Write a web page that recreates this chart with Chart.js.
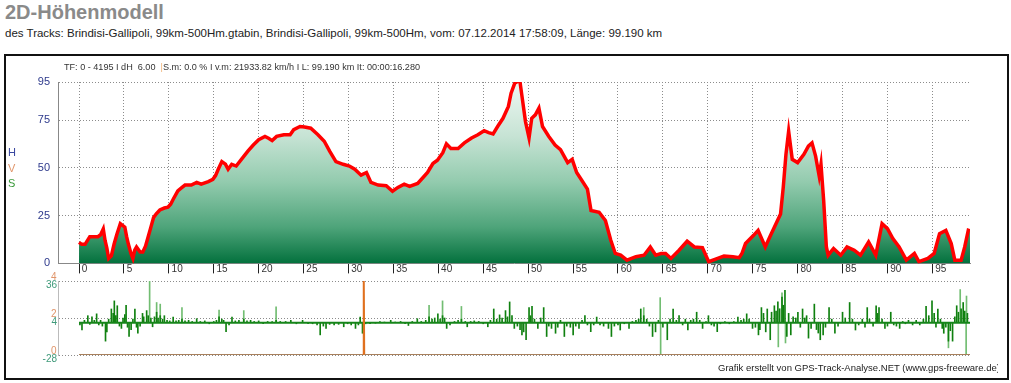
<!DOCTYPE html>
<html>
<head>
<meta charset="utf-8">
<script src="https://cdn.jsdelivr.net/npm/chart.js@4/dist/chart.umd.min.js"></script>
<style>
body { margin: 0; width: 1011px; height: 383px; background: #fff; position: relative; overflow: hidden;
       font-family: Arial, "Liberation Sans", sans-serif; }
#title { position: absolute; left: 5px; top: 1px; font-size: 20px; font-weight: bold; color: #8a8a8a; line-height: 22px; }
#sub { position: absolute; left: 5px; top: 26px; font-size: 11.5px; color: #222; line-height: 14px; white-space: nowrap; }
#frame { position: absolute; left: 4px; top: 54px; width: 1001px; height: 322px; border: 2px solid #111; }
#info { position: absolute; left: 64px; top: 61px; font-size: 9.1px; color: #333; white-space: pre; line-height: 12px; }
#info span { color: #f0b070; }
#hvs { position: absolute; left: 8px; top: 145px; font-size: 11px; line-height: 15.5px; }
#footer { position: absolute; left: 718px; top: 362px; width: 280px; overflow: hidden; font-size: 9.5px; color: #222; white-space: nowrap; line-height: 12px; }
canvas { position: absolute; left: 0; }
#elevChart { top: 56px; }
#slopeChart { top: 272px; }
</style>
</head>
<body>
<div id="title">2D-Höhenmodell</div>
<div id="sub">des Tracks: Brindisi-Gallipoli, 99km-500Hm.gtabin, Brindisi-Gallipoli, 99km-500Hm, vom: 07.12.2014 17:58:09, Länge: 99.190 km</div>
<div id="frame"></div>
<canvas id="slopeChart" width="1011" height="100"></canvas>
<canvas id="elevChart" width="1011" height="222"></canvas>
<div id="info">TF: 0 - 4195 I dH  6.00  <span>|</span>S.m: 0.0 % I v.m: 21933.82 km/h I L: 99.190 km It: 00:00:16.280</div>
<div id="hvs"><div style="color:#3a48a0">H</div><div style="color:#e0956a">V</div><div style="color:#3a9a3a">S</div></div>
<div id="footer">Grafik erstellt von GPS-Track-Analyse.NET (www.gps-freeware.de)</div>
<script>
var trackLength = 99.19;
var xMin = -2.34;
var kmTicks = [0, 5, 10, 15, 20, 25, 30, 35, 40, 45, 50, 55, 60, 65, 70, 75, 80, 85, 90, 95];
var elevTicks = [0, 25, 50, 75, 95];
var slopeTicks = [-28, 4, 36];
var speedTicks = [0, 2, 4];

// elevation profile (km / Hm)
var elevKm = [0, 0.3, 0.67, 1.2, 2.1, 2.4, 2.7, 2.9, 3.1, 3.3, 3.6, 3.9, 4.2, 4.6, 5.1, 5.3, 5.5, 5.8, 6.0, 6.2,
  6.4, 6.8, 7.1, 7.4, 7.7, 8.0, 8.3, 8.6, 9.0, 9.5, 9.9, 10.2, 10.5, 11.0, 11.4, 11.8, 12.5, 13.1, 13.6, 14.4,
  14.9, 15.2, 15.5, 15.9, 16.3, 16.6, 17.0, 17.5, 18.1, 18.8, 19.4, 20.0, 20.7, 21.1, 21.5, 22.0, 22.8, 23.5, 23.9, 24.6,
  25.1, 25.8, 26.6, 27.3, 27.9, 28.6, 29.4, 30.1, 30.7, 31.4, 32.0, 32.5, 33.3, 34.2, 34.9, 35.5, 36.2, 36.8, 37.7, 38.3,
  38.8, 39.4, 39.9, 40.5, 40.9, 41.4, 42.2, 42.9, 43.7, 44.4, 45.1, 45.6, 46.1, 46.6, 47.2, 47.8, 48.1, 48.5, 48.8, 49.1,
  49.3, 49.7, 50.1, 50.4, 50.8, 51.2, 51.6, 52.3, 53.0, 53.6, 54.4, 54.9, 55.4, 56.0, 56.6, 57.0, 57.9, 58.6, 59.2, 59.7,
  60.3, 61.0, 62.0, 62.9, 63.6, 64.2, 64.8, 65.3, 65.9, 66.8, 67.7, 68.5, 69.4, 70.1, 71.1, 71.8, 72.8, 73.5, 73.8, 74.2,
  75.1, 75.6, 76.4, 76.9, 77.5, 78.1, 78.4, 78.7, 79.0, 79.4, 80.0, 80.7, 81.2, 81.6, 82.0, 82.4, 82.6, 82.9, 83.2, 83.4,
  84.0, 84.8, 85.5, 86.3, 87.0, 87.9, 88.7, 89.4, 90.0, 90.6, 91.3, 92.1, 93.0, 93.5, 94.5, 95.2, 95.8, 96.5, 97.1, 97.5,
  98.2, 98.6, 99.0, 99.19];
var elevH = [11, 10, 10, 14, 14, 15, 18, 12, 8, 2.6, 4, 10, 15, 20.8, 19, 14, 10, 5, 2.6, 7,
  8.6, 6, 6, 9, 14, 19, 24, 26, 28, 29, 29.4, 31, 33.7, 38, 39.5, 41, 41, 42.4, 41.5, 42.8,
  44, 46, 49.3, 53.3, 52, 49.3, 51.9, 51, 54.6, 58.8, 62, 64.8, 66.5, 65.5, 64.3, 66.5, 67.4, 67.4, 70, 71.7,
  71.4, 70.8, 67.4, 64, 58.8, 53.3, 51.9, 51, 49.3, 46.2, 47.6, 42.4, 41, 40.7, 37.8, 39.8, 41.5, 40.3, 41.9, 45,
  47.6, 52.3, 54, 58, 62.6, 60.2, 60.2, 63.1, 65.7, 67.4, 69.5, 68.5, 67.8, 71.7, 76, 82.2, 89.1, 94.3, 95.3, 94.8,
  88, 74.4, 65.7, 76, 77.8, 81.3, 71.7, 66.5, 62, 59.6, 52.8, 54.5, 47.6, 43.3, 38.9, 27.7, 26.8, 22.5, 12.1, 5.2,
  4.3, 1.7, 3.5, 4.3, 8.6, 4.3, 5.2, 5.2, 2.6, 6.9, 11.6, 8.6, 8.3, 0.9, 2.6, 3.8, 3.5, 3, 5.2, 10.4,
  14.7, 17.3, 8.6, 13.8, 19.9, 25.9, 39.8, 57.1, 69.2, 54.5, 52.8, 57.1, 61.4, 63.1, 56.2, 45.8, 51.9, 32.9, 8.6, 4.3,
  7.8, 4.3, 8.6, 6.9, 4.3, 11.2, 4.3, 20.8, 18.2, 13, 8.6, 1.7, 5.2, 0.9, 2.6, 5.2, 15.6, 17.3, 10.4, 1.7,
  1.7, 8.6, 17.3, 17];

// slope bars (km / %)
var slopeKm = [0.1, 0.33, 0.6, 0.98, 1.2, 1.44, 1.7, 1.96, 2.2, 2.4, 2.6, 2.95, 3.1, 3.3, 3.6, 3.8, 3.93, 4.1, 4.26, 4.5,
  4.72, 4.9, 5.1, 5.24, 5.4, 5.57, 5.8, 6.0, 6.22, 6.4, 6.55, 6.8, 7.07, 7.2, 7.53, 7.7, 8.0, 8.19, 8.4, 8.64,
  8.8, 9.04, 9.3, 9.5, 9.8, 10.1, 10.48, 10.8, 11.1, 11.46, 11.8, 12.2, 12.6, 13.1, 13.5, 14.0, 14.5, 15.0, 15.3, 15.59,
  15.9, 16.1, 16.37, 16.7, 17.03, 17.4, 17.8, 18.34, 18.7, 19.1, 19.5, 20.0, 20.5, 21.0, 21.5, 21.94, 22.4, 23.0, 23.58, 24.2,
  24.89, 25.5, 26.0, 26.5, 26.85, 27.2, 27.5, 27.9, 28.4, 28.9, 29.47, 29.9, 30.3, 30.78, 31.1, 31.3, 31.56, 31.9, 32.4, 33.0,
  33.5, 34.0, 34.7, 35.2, 35.8, 36.3, 36.67, 37.1, 37.66, 38.1, 38.6, 38.97, 39.3, 39.6, 39.95, 40.2, 40.47, 40.7, 40.93, 41.3,
  41.8, 42.2, 42.57, 43.0, 43.22, 43.6, 44.0, 44.5, 45.0, 45.51, 45.8, 46.17, 46.5, 46.82, 47.1, 47.48, 47.7, 47.94, 48.2, 48.46,
  48.8, 49.1, 49.31, 49.5, 49.77, 50.1, 50.25, 50.43, 50.7, 51.08, 51.4, 51.73, 52.06, 52.3, 52.6, 53.05, 53.3, 53.6, 54.03, 54.3,
  54.7, 55.01, 55.3, 55.66, 56.0, 56.32, 56.6, 56.97, 57.3, 57.63, 58.0, 58.4, 58.94, 59.27, 59.6, 60.0, 60.25, 60.7, 61.23, 61.6,
  62.0, 62.3, 62.54, 62.87, 63.2, 63.5, 63.85, 64.18, 64.5, 65.0, 65.49, 65.8, 66.14, 66.5, 66.8, 67.2, 67.5, 67.78, 68.1, 68.4,
  68.76, 69.1, 69.42, 69.8, 70.07, 70.4, 70.7, 71.05, 71.4, 71.9, 72.4, 72.9, 73.35, 73.7, 74.0, 74.33, 74.6, 74.98, 75.3, 75.64,
  75.8, 75.97, 76.2, 76.45, 76.62, 76.95, 77.1, 77.41, 77.6, 77.8, 78.0, 78.26, 78.4, 78.59, 78.8, 79.0, 79.24, 79.5, 79.8, 80.03,
  80.3, 80.55, 80.8, 81.0, 81.21, 81.5, 81.86, 82.1, 82.3, 82.52, 82.84, 83.1, 83.5, 83.8, 84.15, 84.5, 85.0, 85.3, 85.79, 86.1,
  86.44, 86.8, 87.2, 87.5, 87.75, 88.0, 88.4, 88.74, 88.9, 89.06, 89.4, 89.72, 90.0, 90.37, 90.7, 91.0, 91.36, 91.7, 92.0, 92.34,
  92.8, 93.2, 93.6, 94.0, 94.3, 94.6, 94.96, 95.2, 95.4, 95.61, 95.9, 96.1, 96.27, 96.5, 96.79, 97.0, 97.25, 97.5, 97.71, 97.9,
  98.2, 98.43, 98.6, 98.9];
var slopeVal = [-2, -6.4, 2, 6, -1.5, 5, 2, 7.6, -2, 2, -3, -16, -8, 3, 11.8, 8, 18.8, 6, 14.6, -3,
  -5, 4, 7, 15, -4, -12, -6, 3, 11.8, -4, -9.2, -3, 8, 5, 10.4, 6, 4, -3.6, 5, 9,
  4, 6, 3, 6, 2, 1.5, 4.8, 1.5, 2, 3, 1.5, 2, 1, 3.4, 1, 1.5, -1, 1, 2, 5,
  3, 2, -7.8, -2, 4.8, 1.5, 2, 3, 1.5, 2, 1, 1.5, -1, 1, 1, 2, 1, 1, 2, -1,
  2, -1, -1, -2, -10.6, -3, -5, -1.5, -2, -1.5, -3.6, -1, -2, -5, -2, 4.8, -9.2, -1, -1, -0.5,
  1, 0.5, 2, 0.5, 1, -1, -2.5, 1, 3.4, 1, 2, 5, 3, 4, 7.6, 3, 6, 4, -5, -2,
  1, 2, 3, 1, -3.6, 1, 1.5, 1, -1, -3.6, 2, 11.8, 3, 6.7, 4, 10.4, 5, 17.9, 6, -5,
  -3, -6, -10.6, -8, -14.8, 13, 6, 14, 3, -5, 4, 13, -12, -3, -5, -9.2, -4, 2, -12, -3,
  -4, -10.6, -3, -5, 2, 6, -2, -7.8, -2, 4.8, -2, -3, -5, -12, -3, -2, -6.4, -1, -5, 1,
  2, 3, 11.8, 6, 3, -3, -12, -8, 2, -4, -14.8, 3, 11.8, 2, 6, -2, 3, -6.4, 2, 3,
  9, 2, -5, 1, 6, -2, -3, -7.8, -1, 1, -1, 1, 4.8, 2, 3, 7.6, 3, -5, -4, -10.6,
  -6, 13, 8, -8, 11.8, -14.8, 9, 14.6, 10, 18, 12, 22, 15, 28, -12, 8, -10.6, 5, 4, 9,
  -4, 11.8, 4, 6, -13.4, -5, 16, -6, -9, -14.8, -10.6, -4, 13, 3, -9.2, -3, 9, 4, 17.4, 3,
  -6.4, -2, 3, -4, 13, 3, -3, 14.6, 8, 13, 3, -5, -3, 9, -2, -3, -5, 1, -1, 2,
  -2, 2, -2, 3, 14, 6, 18.8, 8, -4, 11.8, 3, -5, -9.2, -4, -16, -7, -16, 5, 14.6, 9,
  12, 17.4, 10, 8];

// long light spikes in the slope panel
var spikeKm = [7.86, 8.64, 9.04, 11.46, 15.59, 18.34, 21.94, 38.97, 40.47, 42.57, 62.87, 64.7, 64.75, 77.85, 78.26, 78.65, 96.79, 98.1, 98.76, 98.8];
var spikeVal = [36, 17.4, 16, 13, 10.9, 10.4, 13.7, 15, 18.8, 14, 13, 21.6, -28, -21, 25.8, -17.6, -21.8, 28.6, -28, 23];

// speed line (km / value on the V scale)
var speedKm = [0, 31.65, 31.7, 31.75, trackLength];
var speedVal = [0, 0, 4, 0, 0];

var fontFamily = 'Arial, "Liberation Sans", sans-serif';

var toPoints = function(xs, ys) {
    return xs.map(function(x, i) { return {x: x, y: ys[i]}; });
};

var elevFill = function(context) {
    var area = context.chart.chartArea;
    if (!area) return 'rgba(0,0,0,0)';
    var g = context.chart.ctx.createLinearGradient(0, area.top, 0, area.bottom);
    g.addColorStop(0, '#eef7f2');
    g.addColorStop(0.3, '#c6e3d4');
    g.addColorStop(0.55, '#93cbae');
    g.addColorStop(0.8, '#4ea47a');
    g.addColorStop(1, '#03713d');
    return g;
};

var elevChart = new Chart(document.getElementById('elevChart'), {
    type: 'line',
    data: {
        datasets: [{
            data: toPoints(elevKm, elevH),
            borderColor: '#ff0000',
            borderWidth: 3.5,
            pointRadius: 0,
            tension: 0,
            fill: 'origin',
            backgroundColor: elevFill
        }]
    },
    options: {
        responsive: false,
        animation: false,
        layout: {padding: {left: 0, right: 41, top: 26, bottom: 0}},
        plugins: {legend: {display: false}, tooltip: {enabled: false}},
        scales: {
            x: {
                type: 'linear', min: xMin, max: trackLength,
                afterBuildTicks: function(s) { s.ticks = kmTicks.map(function(v) { return {value: v}; }); },
                afterFit: function(s) { s.height = 13; },
                grid: {color: '#8c8c8c', tickLength: 10, tickColor: '#222', tickWidth: 1},
                border: {display: true, color: '#888', dash: [1, 2]},
                ticks: {
                    padding: -10, align: 'start', maxRotation: 0, autoSkip: false, color: '#333',
                    font: {size: 10, family: fontFamily},
                    callback: function(v) { return ' ' + v; }
                }
            },
            y: {
                min: 0, max: 95,
                afterBuildTicks: function(s) { s.ticks = elevTicks.map(function(v) { return {value: v}; }); },
                afterFit: function(s) { s.width = 58; },
                grid: {drawTicks: false, color: '#8c8c8c'},
                border: {display: true, color: '#888', dash: [1, 2]},
                ticks: {padding: 8, color: '#2e3a8c', font: {size: 11, family: fontFamily}}
            }
        }
    }
});

var slopeChart = new Chart(document.getElementById('slopeChart'), {
    type: 'bar',
    data: {
        datasets: [
            {
                type: 'line', yAxisID: 'v', data: toPoints(speedKm, speedVal),
                borderWidth: 2, pointRadius: 0, tension: 0, borderColor: '#a8805c',
                segment: {borderColor: function(c) { return (c.p0.parsed.y > 0 || c.p1.parsed.y > 0) ? '#e0701e' : '#a8805c'; }},
                order: 0
            },
            {
                type: 'line', yAxisID: 's', data: toPoints([0, trackLength], [0, 0]),
                borderWidth: 2, pointRadius: 0, borderColor: '#16851a', order: 1
            },
            {
                type: 'bar', yAxisID: 's', data: toPoints(spikeKm, spikeVal),
                backgroundColor: '#72bd72', barThickness: 1, grouped: false, order: 3
            },
            {
                type: 'bar', yAxisID: 's', data: toPoints(slopeKm, slopeVal),
                backgroundColor: '#0f800f', barThickness: 1, grouped: false, order: 2
            }
        ]
    },
    options: {
        responsive: false,
        animation: false,
        layout: {padding: {left: 0, right: 41, top: 7, bottom: 17}},
        plugins: {legend: {display: false}, tooltip: {enabled: false}},
        scales: {
            x: {type: 'linear', min: xMin, max: trackLength, offset: false, display: false},
            s: {
                position: 'left', min: -28, max: 36, weight: 1,
                afterBuildTicks: function(s) { s.ticks = slopeTicks.map(function(v) { return {value: v}; }); },
                afterFit: function(s) { s.width = 58; },
                grid: {drawTicks: false, color: '#8c8c8c', lineWidth: 1},
                border: {display: true, color: '#bbb', dash: [1, 2]},
                ticks: {
                    padding: 1, color: '#3f9a7a', font: {size: 10, family: fontFamily, lineHeight: 0.8},
                    callback: function(v) { return ['', String(v)]; }
                }
            },
            v: {
                position: 'left', min: 0, max: 4, weight: 0,
                afterBuildTicks: function(s) { s.ticks = speedTicks.map(function(v) { return {value: v}; }); },
                afterFit: function(s) { s.width = 0; },
                grid: {display: false},
                border: {display: false},
                ticks: {
                    mirror: true, crossAlign: 'far', padding: -7,
                    color: '#e0956a', font: {size: 10, family: fontFamily, lineHeight: 0.8},
                    callback: function(v) { return [String(v), '']; }
                }
            }
        }
    }
});
</script>
</body>
</html>
